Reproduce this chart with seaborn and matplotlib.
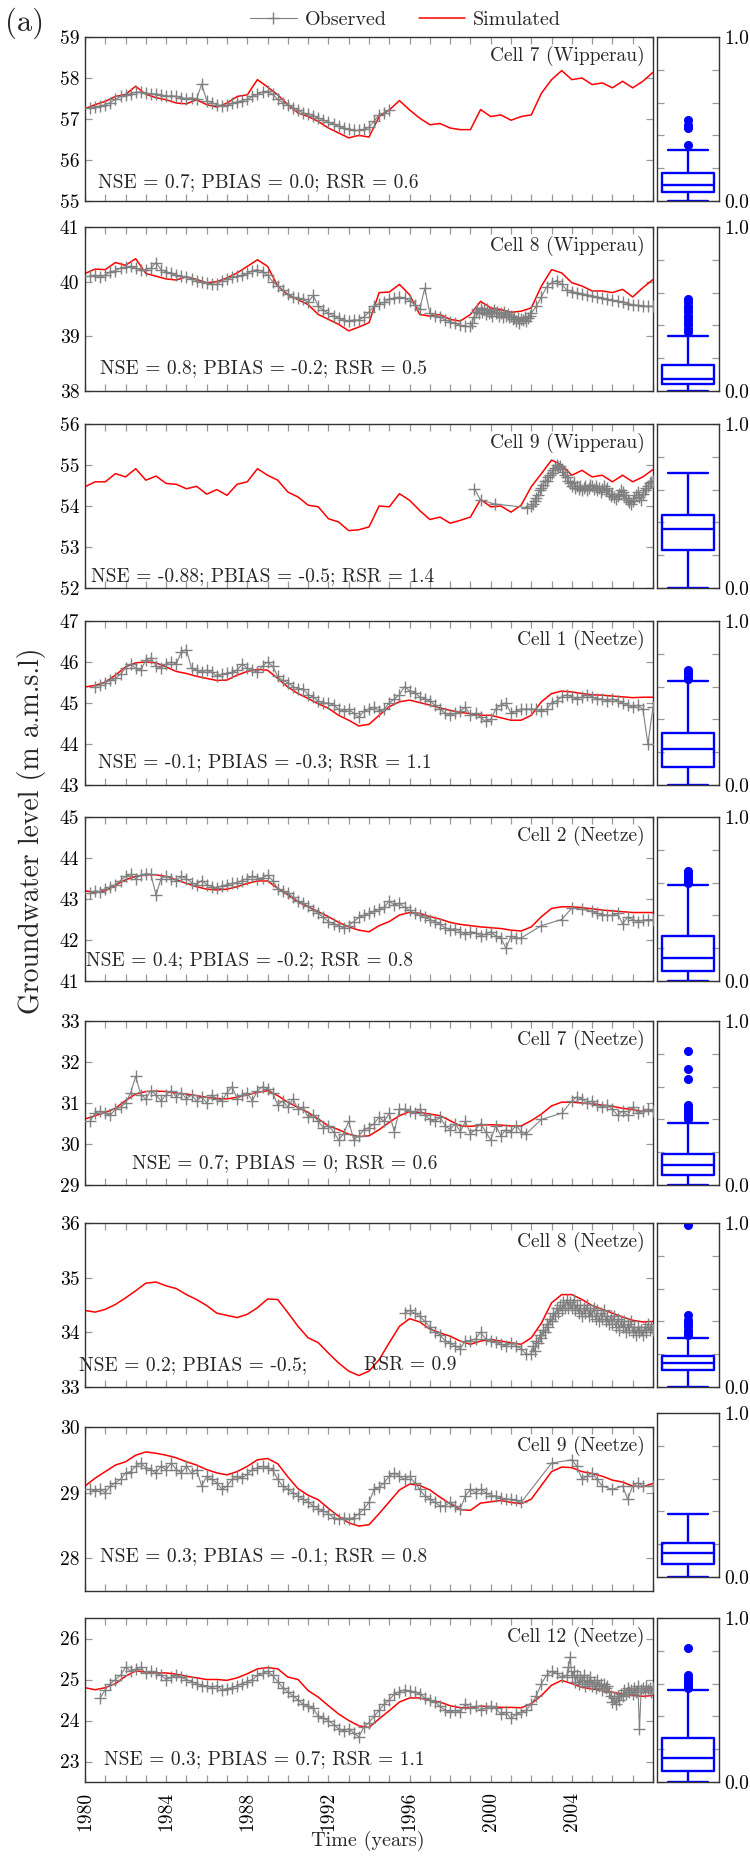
import numpy as np
import matplotlib; matplotlib.use("Agg")
import matplotlib.pyplot as plt
from matplotlib.lines import Line2D
import seaborn as sns

sns.set_theme(style="ticks")
plt.rcParams.update({"axes.formatter.use_mathtext": True, "mathtext.fontset": "cm",
                     "axes.linewidth": 1.0, "axes.edgecolor": "#333333",
                     "xtick.color": "#999999", "ytick.color": "#999999",
                     "xtick.labelcolor": "black", "ytick.labelcolor": "black",
                     "xtick.labelsize": 14, "ytick.labelsize": 14})
plt.rcParams["font.family"] = ["cmr10", "DejaVu Serif"]

# ---- simulated heads, every half year 1980..2008 ----
sim1 = [57.25,57.35,57.43,57.55,57.6,57.8,57.6,57.52,57.47,57.39, 57.37,57.47,57.35,57.29,57.39,57.55,57.59,57.96,57.78,57.59,
        57.35,57.15,57.06,56.94,56.78,56.66,56.54,56.6,56.56,57.06, 57.22,57.45,57.22,57.02,56.86,56.89,56.78,56.74,56.74,57.23,
        57.06,57.1,56.97,57.06,57.1,57.63,57.96,58.18,57.96,58.0, 57.84,57.88,57.76,57.92,57.76,57.92,58.14]
sim2 = [40.15,40.23,40.22,40.35,40.3,40.42,40.15,40.1,40.05,40.03, 40.09,40.04,39.98,40.0,40.07,40.16,40.28,40.4,40.28,39.92,
        39.76,39.67,39.58,39.4,39.31,39.22,39.1,39.17,39.25,39.8, 39.81,39.95,39.76,39.4,39.37,39.4,39.31,39.28,39.4,39.64,
        39.52,39.49,39.44,39.46,39.52,39.92,40.22,40.16,39.98,39.92, 39.83,39.83,39.8,39.86,39.72,39.89,40.04]
sim3 = [54.47,54.59,54.59,54.79,54.71,54.91,54.63,54.73,54.55,54.53, 54.42,54.48,54.29,54.4,54.26,54.53,54.59,54.91,54.75,54.63,
        54.34,54.22,54.02,53.98,53.69,53.61,53.4,53.42,53.49,54.0, 53.98,54.3,54.14,53.89,53.67,53.73,53.58,53.65,53.73,54.16,
        53.98,54.0,53.85,54.02,54.47,54.79,55.12,55.0,54.75,54.87, 54.71,54.75,54.59,54.75,54.59,54.71,54.89]
sim4 = [45.39,45.43,45.51,45.68,45.88,45.98,46.0,45.98,45.88,45.77, 45.72,45.65,45.6,45.55,45.56,45.68,45.77,45.82,45.8,45.6,
        45.39,45.23,45.11,44.98,44.87,44.7,44.58,44.44,44.48,44.7, 44.91,45.03,45.07,45.01,44.95,44.88,44.82,44.77,44.74,44.7,
        44.7,44.64,44.58,44.58,44.7,45.03,45.23,45.29,45.27,45.23, 45.2,45.19,45.17,45.15,45.13,45.14,45.14]
sim5 = [43.2,43.16,43.2,43.34,43.47,43.55,43.59,43.59,43.55,43.47, 43.38,43.3,43.24,43.22,43.24,43.3,43.38,43.44,43.44,43.26,
        43.1,42.93,42.81,42.69,42.57,42.43,42.32,42.24,42.2,42.35, 42.45,42.61,42.67,42.65,42.57,42.51,42.43,42.38,42.35,42.32,
        42.3,42.28,42.24,42.22,42.32,42.57,42.77,42.81,42.81,42.79, 42.76,42.73,42.71,42.69,42.67,42.67,42.67]
sim6 = [30.61,30.69,30.77,30.87,31.06,31.22,31.28,31.29,31.28,31.24, 31.22,31.18,31.14,31.11,31.1,31.14,31.2,31.26,31.3,31.18,
        31.02,30.89,30.77,30.61,30.44,30.35,30.24,30.18,30.2,30.35, 30.53,30.69,30.79,30.77,30.73,30.69,30.57,30.44,30.43,30.46,
        30.47,30.46,30.44,30.44,30.57,30.73,30.93,31.02,31.02,31.0, 30.98,30.95,30.92,30.87,30.84,30.79,30.81]
sim7 = [34.4,34.37,34.42,34.51,34.63,34.76,34.9,34.92,34.85,34.8, 34.69,34.6,34.49,34.35,34.31,34.27,34.33,34.45,34.61,34.6,
        34.36,34.11,33.9,33.81,33.62,33.44,33.29,33.21,33.29,33.5, 33.81,34.11,34.25,34.19,34.06,33.99,33.93,33.84,33.78,33.84,
        33.87,33.84,33.81,33.78,33.9,34.17,34.54,34.69,34.69,34.6, 34.49,34.42,34.35,34.28,34.22,34.19,34.2]
sim8 = [29.1,29.22,29.32,29.42,29.47,29.57,29.62,29.6,29.57,29.53, 29.47,29.42,29.35,29.3,29.27,29.32,29.4,29.5,29.52,29.44,
        29.24,29.06,28.96,28.89,28.76,28.64,28.54,28.49,28.51,28.68, 28.86,29.04,29.13,29.11,29.04,28.93,28.83,28.74,28.73,28.84,
        28.86,28.88,28.85,28.83,28.9,29.11,29.32,29.39,29.38,29.32, 29.29,29.25,29.19,29.16,29.1,29.09,29.14]
sim9 = [24.8,24.75,24.8,24.9,25.08,25.21,25.18,25.16,25.16,25.13, 25.08,25.04,25.0,25.0,24.98,25.04,25.14,25.26,25.29,25.26,
        25.06,25.0,24.73,24.57,24.36,24.16,24.0,23.87,23.83,24.04, 24.24,24.45,24.55,24.55,24.49,24.45,24.36,24.31,24.31,24.35,
        24.34,24.32,24.32,24.31,24.41,24.61,24.86,24.98,24.9,24.81, 24.77,24.73,24.69,24.65,24.61,24.59,24.61]

# ---- observed heads: runs of (start year, step in years, values) plus sparse extra points ----
obs1_segs = [(1980.25, 0.25,
    [57.28,57.3,57.32,57.35,57.4,57.48,57.55,57.58,57.62,57.65, 57.66,57.63,57.6,57.62,57.58,57.55,57.57,57.55,57.52,57.5,
     57.52,57.48,57.85,57.45,57.4,57.35,57.32,57.33,57.38,57.42, 57.45,57.48,57.55,57.6,57.66,57.68,57.6,57.48,57.4,57.35,
     57.28,57.22,57.15,57.12,57.08,57.02,56.98,56.92,56.88,56.82, 56.78,56.75,56.72,56.72,56.75,56.8,56.95,57.1,57.15,57.22])]
obs1_xt, obs1_xv = [], []

obs2_segs = [(1980.25, 0.25,
    [40.1,40.12,40.08,40.12,40.18,40.2,40.25,40.27,40.28,40.25, 40.22,40.22,40.25,40.35,40.22,40.18,40.15,40.12,40.1,40.08,
     40.05,40.02,40.0,39.97,39.95,39.95,40.02,40.05,40.08,40.1, 40.12,40.15,40.2,40.22,40.18,40.12,40.0,39.92,39.85,39.78,
     39.72,39.7,39.68,39.62,39.75,39.55,39.48,39.42,39.38,39.33, 39.3,39.28,39.3,39.3,39.35,39.45,39.55,39.6,39.62,39.68,
     39.7,39.72,39.7,39.65,39.58,39.5,39.88,39.42,39.38,39.35, 39.3,39.27,39.24,39.2,39.18]),
    (1999.0, 1/12,
    [39.18,39.25,39.35,39.45,39.5,39.42,39.52,39.45,39.48,39.4,39.5,39.42,
     39.45,39.38,39.48,39.42,39.45,39.38,39.42,39.35,39.45,39.38,39.4,39.35,
     39.38,39.32,39.35,39.28,39.33,39.25,39.32,39.3,39.35,39.28,39.33,39.38,39.42]),
    (2002.25, 0.25,
    [39.55,39.72,39.9,39.98,40.02,39.95,39.85,39.82,39.8,39.78,39.76,39.74,39.72,39.7,39.68,39.66,39.64,39.62,39.6,39.58,
     39.57,39.55,39.55,39.55])]
obs2_xt, obs2_xv = [], []

obs3_segs = [(2002.0, 1/12,
    [54.0,54.05,54.12,54.2,54.28,54.38,54.45,54.52,54.6,54.62,54.7,54.75,
     54.8,54.88,54.92,55.0,54.95,54.98,54.9,54.82,54.75,54.7,54.6,54.55,
     54.5,54.58,54.45,54.5,54.42,54.48,54.4,54.45,54.5,54.38,54.45,54.52,
     54.5,54.42,54.48,54.4,54.45,54.35,54.42,54.48,54.4,54.45,54.3,54.25,
     54.3,54.22,54.18,54.25,54.3,54.38,54.35,54.28,54.2,54.15,54.1,54.05,
     54.12,54.2,54.28,54.35,54.22,54.15,54.3,54.38,54.45,54.5,54.55,54.58,54.62])]
obs3_xt = [1999.2, 1999.5, 2000.2, 2001.8]
obs3_xv = [54.42, 54.14, 54.05, 53.96]

obs4_segs = [(1980.5, 0.25,
    [45.4,45.45,45.5,45.55,45.6,45.7,45.85,45.95,45.85,45.8, 46.05,46.1,45.9,45.85,45.95,46.0,45.95,46.25,46.3,45.85,
     45.8,45.75,45.8,45.75,45.65,45.7,45.72,45.75,45.8,45.95, 45.85,45.8,45.75,45.9,46.0,45.9,45.65,45.55,45.5,45.4,
     45.35,45.35,45.2,45.15,45.05,45.0,45.0,44.95,44.85,44.8, 44.85,44.75,44.65,44.8,44.85,44.9,44.8,44.85,45.0,45.1,
     45.2,45.4,45.3,45.25,45.15,45.1,45.05,44.95,44.85,44.75, 44.7,44.75,44.8,44.9,44.7,44.75,44.65,44.55,44.6,44.85,
     44.95,45.0,44.75,44.8,44.85,44.85,44.85,44.85,44.8,44.85, 45.0,45.05,45.15,45.2,45.15,45.1,45.15,45.2,45.15,45.1,
     45.1,45.05,45.1,45.05,45.0,44.95,44.9,44.95,44.85,44.0, 44.9])]
obs4_xt, obs4_xv = [], []

obs5_segs = [(1980.25, 0.25,
    [43.15,43.2,43.18,43.25,43.3,43.35,43.45,43.55,43.6,43.5, 43.58,43.62,43.6,43.1,43.5,43.55,43.5,43.45,43.55,43.5,
     43.4,43.35,43.45,43.35,43.3,43.28,43.32,43.35,43.38,43.4, 43.45,43.5,43.55,43.5,43.52,43.58,43.45,43.25,43.2,43.15,
     43.05,42.95,42.9,42.82,42.72,42.65,42.55,42.45,42.4,42.35, 42.3,42.35,42.45,42.55,42.6,42.65,42.7,42.75,42.8,42.95,
     42.85,42.9,42.8,42.72,42.65,42.6,42.55,42.5,42.45,42.38, 42.3,42.25,42.28,42.2,42.15,42.2,42.18,42.1,42.15,42.2,
     42.1,42.05,41.8,42.1,42.05,42.05])]
obs5_xt = [2002.5,2003.5,2004.0,2004.5,2005.0,2005.25,2005.5,2005.75,2006.0,2006.25,2006.5,2006.75,2007.0,2007.25,2007.5,2007.75,2008.0]
obs5_xv = [42.35,42.5,42.78,42.75,42.7,42.65,42.62,42.6,42.6,42.65,42.4,42.55,42.5,42.45,42.48,42.5,42.5]

obs6_segs = [(1980.25, 0.25,
    [30.55,30.75,30.8,30.75,30.7,30.85,30.9,31.0,31.25,31.65, 31.2,31.1,31.3,31.2,31.05,31.2,31.3,31.15,31.25,31.1,
     31.2,31.05,31.15,31.0,31.2,31.1,31.05,31.25,31.4,31.1, 31.2,31.25,31.05,31.3,31.4,31.35,31.25,30.95,31.05,30.9,
     31.1,30.85,30.9,30.65,30.7,30.55,30.4,30.45,30.3,30.1, 30.25,30.55,30.1,30.2,30.35,30.4,30.5,30.65,30.55,30.75,
     30.3,30.85,30.85,30.8,30.75,30.85,30.7,30.6,30.55,30.65, 30.45,30.35,30.5,30.3,30.55,30.25,30.35,30.5,30.3,30.1,
     30.45,30.2,30.35,30.3,30.45,30.3,30.25])]
obs6_xt = [2002.5,2003.5,2004.0,2004.25,2004.5,2004.75,2005.0,2005.25,2005.5,2005.75,2006.0,2006.25,2006.5,2006.75,2007.0,2007.25,2007.5,2007.75,2008.0]
obs6_xv = [30.6,30.75,31.05,31.15,31.1,31.0,31.05,30.95,30.9,30.95,30.85,30.7,30.8,30.7,30.9,30.75,30.8,30.85,30.8]

obs7_segs = [(1995.75, 0.25,
    [34.35,34.4,34.35,34.3,34.2,34.1,34.0,33.95,33.85,33.8, 33.75,33.7,33.85,33.85,33.88,34.0,33.88,33.85,33.82,33.78,
     33.75,33.8,33.75,33.7,33.6]),
    (2002.0, 1/12,
    [33.6,33.75,33.65,33.85,33.8,33.95,33.9,34.05,34.0,34.15,34.1,34.25,
     34.2,34.35,34.3,34.45,34.35,34.5,34.4,34.55,34.45,34.6,34.45,34.55,
     34.45,34.6,34.4,34.5,34.35,34.5,34.3,34.45,34.35,34.5,34.3,34.4,
     34.3,34.45,34.25,34.4,34.2,34.35,34.25,34.4,34.2,34.3,34.15,34.3,
     34.15,34.3,34.1,34.25,34.05,34.2,34.1,34.2,34.0,34.15,34.05,34.2,
     34.0,34.1,33.95,34.1,34.0,34.05,33.95,34.1,34.0,34.15,34.05,34.1,34.05])]
obs7_xt, obs7_xv = [], []

obs8_segs = [(1980.25, 0.25,
    [29.05,29.03,29.05,29.0,29.1,29.15,29.2,29.3,29.32,29.4, 29.45,29.38,29.35,29.3,29.4,29.35,29.45,29.35,29.3,29.4,
     29.3,29.35,29.1,29.25,29.2,29.15,29.05,29.1,29.2,29.25, 29.22,29.28,29.35,29.38,29.4,29.38,29.35,29.2,29.1,29.05,
     29.0,28.95,28.9,28.85,28.8,28.75,28.72,28.68,28.62,28.6, 28.62,28.6,28.62,28.68,28.75,28.85,29.05,29.08,29.15,29.25,
     29.3,29.25,29.2,29.25,29.15,29.05,28.95,28.9,28.85,28.8, 28.8,28.85,28.8,28.75,28.95,29.05,29.0,29.05,29.0,28.95,
     28.95,28.92,28.9,28.9,28.88,28.85])]
obs8_xt = [2003.0,2004.0,2004.25,2004.5,2004.75,2005.0,2005.25,2005.5,2006.0,2006.5,2006.75,2007.0,2007.25,2007.5,2008.0]
obs8_xv = [29.45,29.5,29.4,29.2,29.25,29.3,29.2,29.1,29.05,29.1,28.9,29.1,29.15,29.1,29.1]

obs9_segs = [(1980.75, 0.25,
    [24.55,24.75,24.9,25.0,25.1,25.3,25.2,25.25,25.3,25.15, 25.2,25.15,25.1,25.0,25.05,25.1,25.05,25.0,24.95,24.9,
     24.85,24.85,24.8,24.85,24.75,24.78,24.8,24.85,24.9,24.95, 25.0,25.1,25.15,25.2,25.1,24.95,24.8,24.7,24.6,24.5,
     24.4,24.35,24.3,24.1,24.05,24.0,23.9,23.8,23.75,23.8, 23.7,23.6,23.85,23.95,24.1,24.25,24.4,24.5,24.65,24.7,
     24.75,24.72,24.7,24.65,24.55,24.5,24.45,24.35,24.25,24.2, 24.25,24.2,24.4,24.3,24.35,24.25,24.3,24.35,24.3,24.15,
     24.2,24.05,24.15,24.2,24.25,24.4,24.6,24.9,25.1,25.2, 25.15,25.05]),
    (2003.75, 1/12,
    [25.1,25.3,25.55,25.05,25.2,24.95,25.1,24.9,25.05,24.95,25.1,24.85,
     25.0,24.9,25.05,24.85,24.95,24.8,25.0,24.85,24.9,24.75,24.9,24.8,
     24.85,24.7,24.6,24.45,24.55,24.4,24.6,24.5,24.65,24.6,24.75,24.65,
     24.8,24.7,24.75,24.65,24.8,24.7,24.85,23.8,24.75,24.8,24.7,24.85,
     24.75,24.8,24.7,24.8])]
obs9_xt, obs9_xv = [], []

# ---- box plot summaries (whisker low, q1, median, q3, whisker high) and outliers ----
box_stats = [[0.0,0.057,0.098,0.168,0.309], [0.0,0.04,0.071,0.16,0.335], [0.0,0.231,0.359,0.447,0.702],
             [0.0,0.112,0.222,0.32,0.633], [0.0,0.063,0.143,0.273,0.585], [0.0,0.061,0.12,0.19,0.38],
             [0.0,0.104,0.145,0.186,0.30], [0.0,0.078,0.147,0.208,0.386], [0.0,0.069,0.149,0.267,0.56]]
box_fliers = [[0.344,0.446,0.466,0.493],
              [0.36,0.38,0.40,0.42,0.44,0.46,0.48,0.50,0.52,0.54,0.56],
              [],
              [0.645,0.66,0.675,0.69,0.70],
              [0.595,0.61,0.625,0.64,0.655,0.67],
              [0.40,0.42,0.44,0.46,0.47,0.486,0.649,0.71,0.82],
              [0.315,0.33,0.35,0.37,0.39,0.41,0.437,0.99],
              [],
              [0.575,0.59,0.605,0.62,0.635,0.65,0.82]]

titles = ["Cell 7 (Wipperau)", "Cell 8 (Wipperau)", "Cell 9 (Wipperau)", "Cell 1 (Neetze)", "Cell 2 (Neetze)",
          "Cell 7 (Neetze)", "Cell 8 (Neetze)", "Cell 9 (Neetze)", "Cell 12 (Neetze)"]
metrics = ["NSE = 0.7; PBIAS = 0.0; RSR = 0.6", "NSE = 0.8; PBIAS = -0.2; RSR = 0.5",
           "NSE = -0.88; PBIAS = -0.5; RSR = 1.4", "NSE = -0.1; PBIAS = -0.3; RSR = 1.1",
           "NSE = 0.4; PBIAS = -0.2; RSR = 0.8", "NSE = 0.7; PBIAS = 0; RSR = 0.6",
           "NSE = 0.2; PBIAS = -0.5;", "NSE = 0.3; PBIAS = -0.1; RSR = 0.8", "NSE = 0.3; PBIAS = 0.7; RSR = 1.1"]
ylims = [(55,59),(38,41),(52,56),(43,47),(41,45),(29,33),(33,36),(27.5,30),(22.5,26.5)]

sims = [sim1,sim2,sim3,sim4,sim5,sim6,sim7,sim8,sim9]
obs_all = [(obs1_segs,obs1_xt,obs1_xv),(obs2_segs,obs2_xt,obs2_xv),(obs3_segs,obs3_xt,obs3_xv),
           (obs4_segs,obs4_xt,obs4_xv),(obs5_segs,obs5_xt,obs5_xv),(obs6_segs,obs6_xt,obs6_xv),
           (obs7_segs,obs7_xt,obs7_xv),(obs8_segs,obs8_xt,obs8_xv),(obs9_segs,obs9_xt,obs9_xv)]

# layout in pixels
FW, FH = 750, 1863
tops = [37, 227, 424, 621, 817, 1021, 1223, 1427, 1618]
box_shift = [0, 0, 0, 0, 0, 0, 0, -14, 0]
PH = 164
txt_pos = [(0.023,0.116),(0.026,0.14),(0.01,0.073),(0.023,0.14),(0.002,0.128),(0.082,0.134),(-0.01,0.134),(0.026,0.215),(0.033,0.14)]
GRAY = "#808080"; BLUE = "#0000ff"; FS = 14

fig = plt.figure(figsize=(FW/100, FH/100), dpi=100)
years = np.arange(1980, 2009)
for i in range(9):
    ax = fig.add_axes([85/FW, 1-(tops[i]+PH)/FH, 568/FW, PH/FH])
    segs, xt, xv = obs_all[i]
    ot = np.concatenate([st + stp*np.arange(len(v)) for st, stp, v in segs] + [np.asarray(xt, float)])
    ov = np.concatenate([np.asarray(v, float) for _, _, v in segs] + [np.asarray(xv, float)])
    order = np.argsort(ot, kind="stable")
    sim_t = 1980 + 0.5*np.arange(len(sims[i]))
    sns.lineplot(x=sim_t, y=sims[i], ax=ax, color="red", lw=1.1, estimator=None, sort=False, zorder=2)
    sns.lineplot(x=ot[order], y=ov[order], ax=ax, color=GRAY, lw=0.8, marker="+", markersize=8,
                 markeredgewidth=1.0, markeredgecolor=GRAY, estimator=None, sort=False, zorder=3)
    ax.set_xlim(1980, 2008); ax.set_ylim(*ylims[i])
    lo, hi = ylims[i]
    ax.set_yticks(np.arange(np.ceil(lo), np.floor(hi)+1))
    ax.yaxis.set_major_formatter(plt.FormatStrFormatter("%d"))
    ax.set_xticks(years)
    ax.tick_params(axis="both", which="both", direction="in", length=5, width=0.9,
                   top=True, right=True, bottom=True, left=True, pad=4)
    if i < 8:
        ax.set_xticklabels([])
    else:
        ax.set_xticklabels([str(y) if (y % 4 == 0 and y < 2008) else "" for y in years], rotation=90)
        ax.tick_params(axis="x", pad=7)
    ax.set_xlabel(""); ax.set_ylabel("")
    ax.text(0.985, 0.885, titles[i], transform=ax.transAxes, ha="right", va="center", fontsize=FS)
    ax.text(txt_pos[i][0], txt_pos[i][1], metrics[i], transform=ax.transAxes, ha="left", va="center", fontsize=FS)
    if i == 6:
        ax.text(0.492, txt_pos[i][1], "RSR = 0.9", transform=ax.transAxes, ha="left", va="center", fontsize=FS)

    bx = fig.add_axes([657/FW, 1-(tops[i]+box_shift[i]+PH)/FH, 62/FW, PH/FH])
    s = box_stats[i]
    bxp_stats = [dict(whislo=s[0], q1=s[1], med=s[2], q3=s[3], whishi=s[4], fliers=box_fliers[i])]
    lp = dict(color=BLUE, lw=1.7)
    bx.bxp(bxp_stats, positions=[0.5], widths=0.84, capwidths=[0.66], showfliers=True,
           boxprops=lp, whiskerprops=lp, capprops=lp, medianprops=lp,
           flierprops=dict(marker="o", markerfacecolor=BLUE, markeredgecolor=BLUE, markersize=5.5))
    bx.set_xlim(0, 1); bx.set_ylim(0, 1)
    bx.set_xticks([])
    bx.set_yticks([0, 0.2, 0.4, 0.6, 0.8, 1.0])
    bx.set_yticklabels(["0.0", "", "", "", "", "1.0"])
    bx.tick_params(axis="y", direction="in", length=5, width=0.9, left=True, right=True,
                   labelleft=False, labelright=True, pad=4)

h_obs = Line2D([], [], color=GRAY, lw=0.8, marker="+", markersize=8, markeredgewidth=1.0)
h_sim = Line2D([], [], color="red", lw=1.1)
fig.legend([h_obs, h_sim], ["Observed", "Simulated"], loc="upper center", bbox_to_anchor=(0.541, 1.004),
           ncol=2, frameon=False, fontsize=14.5, handlelength=2.3, columnspacing=1.6, handletextpad=0.4)
fig.text(0.007, 1-23/FH, "(a)", fontsize=22, ha="left", va="center")
fig.text(0.042, 0.554, "Groundwater level (m a.m.s.l)", rotation=90, ha="center", va="center", fontsize=20)
fig.text(368/FW, 1-1841/FH, "Time (years)", ha="center", va="center", fontsize=14.5)
fig.savefig("out.png", dpi=100)
